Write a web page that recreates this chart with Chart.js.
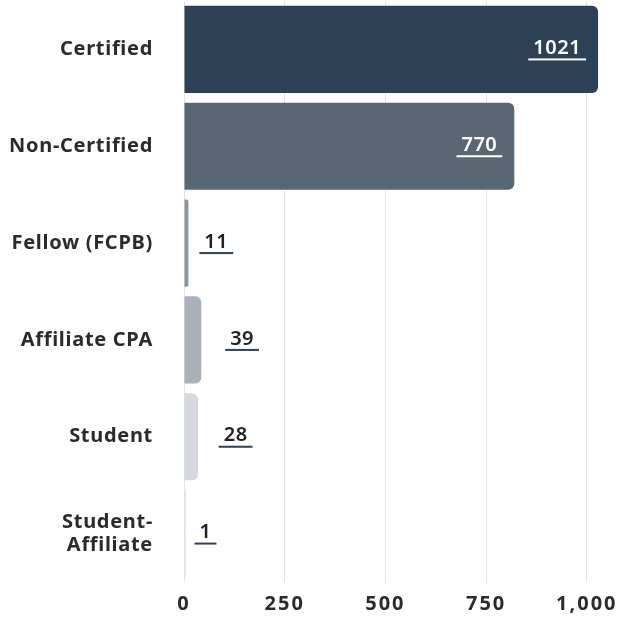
<!DOCTYPE html>
<html>
<head>
<meta charset="utf-8">
<script src="https://cdn.jsdelivr.net/npm/chart.js@4.4.1/dist/chart.umd.min.js"></script>
<style>
  html, body { margin: 0; padding: 0; background: #fff; }
  #wrap { width: 619px; height: 617px; }
</style>
</head>
<body>
<div id="wrap"><canvas id="c"></canvas></div>
<script>
const categories = ['Certified', 'Non-Certified', 'Fellow (FCPB)', 'Affiliate CPA', 'Student', ['Student-', 'Affiliate']];
const barValues = [1028, 820, 11, 43, 35, 5];
const valueLabels = ['1021', '770', '11', '39', '28', '1'];
const xTicks = [0, 250, 500, 750, 1000];
const barColors = ['#2d4156', '#596775', '#8a96a2', '#aab1b9', '#d6d9dd', '#e4e6e9'];

const FONT = '"Noto Sans", "Open Sans", sans-serif';
const TEXT = '#2b2b2b';

// chart.js has no letterSpacing option, so patch it in per scale
const spacing = {
    id: 'spacing',
    beforeDraw(chart) {
        const sp = { x: '2px', y: '0.7px' };
        for (const id in sp) {
            const s = chart.scales[id];
            if (!s || s._spaced) continue;
            const orig = s.drawLabels;
            s.drawLabels = function (area) {
                this.ctx.letterSpacing = sp[id];
                orig.call(this, area);
                this.ctx.letterSpacing = '0px';
            };
            s._spaced = true;
        }
    }
};

// underlined value labels: inside big bars, just past the small ones
const valueTags = {
    id: 'valueTags',
    afterDatasetsDraw(chart) {
        const ctx = chart.ctx;
        const meta = chart.getDatasetMeta(0);
        ctx.save();
        ctx.font = '600 20px ' + FONT;
        ctx.letterSpacing = '0.5px';
        ctx.textBaseline = 'middle';
        ctx.textAlign = 'left';
        meta.data.forEach((bar, i) => {
            const txt = valueLabels[i];
            const w = ctx.measureText(txt).width;
            const len = bar.x - bar.base;
            let left, col, line;
            if (len > 60) {
                left = bar.x - 17 - w;
                col = '#ffffff';
                line = '#ffffff';
            } else {
                left = bar.x + 12 + len;
                col = '#222222';
                line = '#2d4156';
            }
            ctx.fillStyle = col;
            ctx.fillText(txt, left, bar.y - 1);
            ctx.fillStyle = line;
            ctx.fillRect(left - 5, bar.y + 9, w + 10, 2);
        });
        ctx.restore();
    }
};

new Chart(document.getElementById('c'), {
    type: 'bar',
    data: {
        labels: categories,
        datasets: [{
            data: barValues,
            backgroundColor: barColors,
            borderWidth: 0,
            borderRadius: 6,
            barPercentage: 0.9,
            categoryPercentage: 1
        }]
    },
    options: {
        indexAxis: 'y',
        responsive: true,
        maintainAspectRatio: false,
        animation: false,
        layout: { padding: { top: 1, right: 4, left: 0, bottom: 0 } },
        plugins: {
            legend: { display: false },
            tooltip: { enabled: false }
        },
        scales: {
            x: {
                min: 0,
                max: 1070,
                afterBuildTicks: (s) => { s.ticks = xTicks.map(v => ({ value: v })); },
                afterFit: (s) => { s.height = 35; s.paddingLeft = 0; s.paddingRight = 0; },
                grid: { color: '#e2e2e2', drawTicks: false },
                border: { display: false },
                ticks: {
                    color: TEXT,
                    padding: 10,
                    font: { family: FONT, size: 20, weight: 'bold' },
                    callback: (v) => Number(v).toLocaleString('en-US')
                }
            },
            y: {
                afterFit: (s) => { s.width = 184; s.paddingTop = 0; s.paddingBottom = 0; },
                grid: { display: false, drawTicks: false },
                border: { display: false },
                ticks: {
                    color: TEXT,
                    padding: 31,
                    font: { family: FONT, size: 20, weight: 'bold', lineHeight: 1.15 }
                }
            }
        }
    },
    plugins: [spacing, valueTags]
});
</script>
</body>
</html>
